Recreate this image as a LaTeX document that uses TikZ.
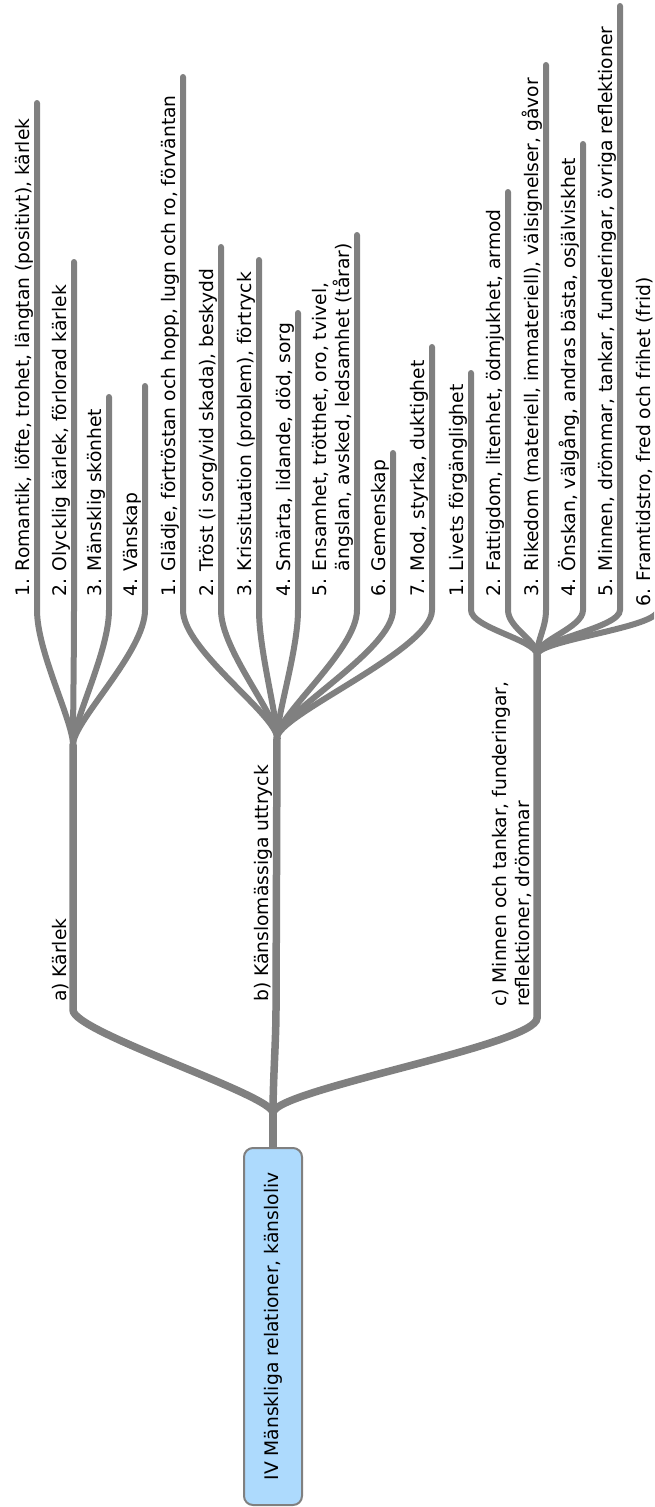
\documentclass[tikz,border=0pt]{standalone}
\usepackage{fontspec}
\setmainfont{DejaVu Sans}
\definecolor{br}{HTML}{808080}
\definecolor{rootfill}{HTML}{ADDAFD}
\tikzset{
  branch/.style={draw=br, line width=7.5pt, line cap=round},
  twig/.style={draw=br, line width=6pt, line cap=round},
  lbl/.style={rotate=90, anchor=base west, inner sep=0pt, font=\fontsize{18.7}{22}\selectfont},
  rootbox/.style={rotate=90, draw=br, line width=2pt, fill=rootfill, rounded corners=9pt,
    minimum width=357pt, minimum height=58pt, inner sep=0pt, font=\fontsize{18.7}{22}\selectfont}
}
\begin{document}
\begin{tikzpicture}[x=1pt,y=-1pt]
\useasboundingbox (0,0) rectangle (654,1507);
\clip (0,0) rectangle (654,1507);

% forks and bends
\coordinate (j0) at (273,1113);
\coordinate (aB) at (73,1010);
\coordinate (aF) at (73,745);
\coordinate (bB) at (276,1010);
\coordinate (bF) at (277,738);
\coordinate (cB) at (537,1018);
\coordinate (cF) at (537,655);

% ---- a children
\coordinate (a1b) at (37,610);  \coordinate (a1t) at (37,103);
\coordinate (a2b) at (74,610);  \coordinate (a2t) at (74,262);
\coordinate (a3b) at (109,610); \coordinate (a3t) at (109,397);
\coordinate (a4b) at (145,610); \coordinate (a4t) at (145,386);
\draw[twig] (aF) .. controls (73,721) and (37,652) .. (a1b) -- (a1t);
\draw[twig] (aF) .. controls (73,721) and (74,652) .. (a2b) -- (a2t);
\draw[twig] (aF) .. controls (73,721) and (109,652) .. (a3b) -- (a3t);
\draw[twig] (aF) .. controls (73,721) and (145,652) .. (a4b) -- (a4t);

% ---- b children
\coordinate (b1b) at (183,610); \coordinate (b1t) at (183,77);
\coordinate (b2b) at (221,610); \coordinate (b2t) at (221,247);
\coordinate (b3b) at (259,610); \coordinate (b3t) at (259,260);
\coordinate (b4b) at (298,610); \coordinate (b4t) at (298,313);
\coordinate (b5b) at (357,610); \coordinate (b5t) at (357,235);
\coordinate (b6b) at (393,610); \coordinate (b6t) at (393,453);
\coordinate (b7b) at (432,610); \coordinate (b7t) at (432,347);
\draw[twig] (bF) .. controls (277,715) and (183,650) .. (b1b) -- (b1t);
\draw[twig] (bF) .. controls (277,715) and (221,650) .. (b2b) -- (b2t);
\draw[twig] (bF) .. controls (277,715) and (259,650) .. (b3b) -- (b3t);
\draw[twig] (bF) .. controls (277,715) and (298,650) .. (b4b) -- (b4t);
\draw[twig] (bF) .. controls (277,715) and (357,650) .. (b5b) -- (b5t);
\draw[twig] (bF) .. controls (277,715) and (393,650) .. (b6b) -- (b6t);
\draw[twig] (bF) .. controls (277,715) and (432,650) .. (b7b) -- (b7t);

% ---- c children
\coordinate (c1b) at (471,610); \coordinate (c1t) at (471,373);
\coordinate (c2b) at (508,610); \coordinate (c2t) at (508,192);
\coordinate (c3b) at (546,610); \coordinate (c3t) at (546,65);
\coordinate (c4b) at (583,610); \coordinate (c4t) at (583,144);
\coordinate (c5b) at (620,610); \coordinate (c5t) at (620,6);
\coordinate (c6b) at (658,610); \coordinate (c6t) at (658,0);
\draw[twig] (cF) .. controls (537,640) and (471,628) .. (c1b) -- (c1t);
\draw[twig] (cF) .. controls (537,640) and (508,628) .. (c2b) -- (c2t);
\draw[twig] (cF) .. controls (537,640) and (546,628) .. (c3b) -- (c3t);
\draw[twig] (cF) .. controls (537,640) and (583,628) .. (c4b) -- (c4t);
\draw[twig] (cF) .. controls (537,640) and (620,628) .. (c5b) -- (c5t);
\draw[twig] (cF) .. controls (537,640) and (658,628) .. (c6b) -- (c6t);

% ---- main branches
\draw[branch] (j0) .. controls (273,1095) and (73,1032) .. (aB) -- (aF);
\draw[branch] (j0) .. controls (273,1080) and (276,1040) .. (bB) -- (bF);
\draw[branch] (j0) .. controls (273,1090) and (537,1045) .. (cB) -- (cF);

% ---- root
\node[rootbox] (root) at (273,1326.5) {IV Mänskliga relationer, känsloliv};
\draw[draw=br, line width=8pt] (root.east) -- (j0);

% ---- branch labels
\node[lbl] (la) at (66,1002) {a) Kärlek};
\node[lbl] (lb) at (268,1002) {b) Känslomässiga uttryck};
\node[lbl] (lc1) at (506,1007) {c) Minnen och tankar, funderingar,};
\node[lbl] (lc2) at (529,1007) {reflektioner, drömmar};

% ---- a labels
\node[lbl] (la1) at (29,597) {1. Romantik, löfte, trohet, längtan (positivt), kärlek};
\node[lbl] (la2) at (66,597) {2. Olycklig kärlek, förlorad kärlek};
\node[lbl] (la3) at (101,597) {3. Mänsklig skönhet};
\node[lbl] (la4) at (137,597) {4. Vänskap};

% ---- b labels
\node[lbl] (lb1) at (175,597) {1. Glädje, förtröstan och hopp, lugn och ro, förväntan};
\node[lbl] (lb2) at (213,597) {2. Tröst (i sorg/vid skada), beskydd};
\node[lbl] (lb3) at (251,597) {3. Krissituation (problem), förtryck};
\node[lbl] (lb4) at (290,597) {4. Smärta, lidande, död, sorg};
\node[lbl] (lb5a) at (326,597) {5. Ensamhet, trötthet, oro, tvivel,};
\node[lbl] (lb5b) at (349,597) {\hphantom{5. }ängslan, avsked, ledsamhet (tårar)};
\node[lbl] (lb6) at (385,597) {6. Gemenskap};
\node[lbl] (lb7) at (424,597) {7. Mod, styrka, duktighet};

% ---- c labels
\node[lbl] (lc1a) at (463,597) {1. Livets förgänglighet};
\node[lbl] (lc2a) at (500,597) {2. Fattigdom, litenhet, ödmjukhet, armod};
\node[lbl] (lc3a) at (538,597) {3. Rikedom (materiell, immateriell), välsignelser, gåvor};
\node[lbl] (lc4a) at (575,597) {4. Önskan, välgång, andras bästa, osjälviskhet};
\node[lbl] (lc5a) at (612,597) {5. Minnen, drömmar, tankar, funderingar, övriga reflektioner};
\node[lbl] (lc6a) at (650,607) {6. Framtidstro, fred och frihet (frid)};
\end{tikzpicture}
\end{document}
